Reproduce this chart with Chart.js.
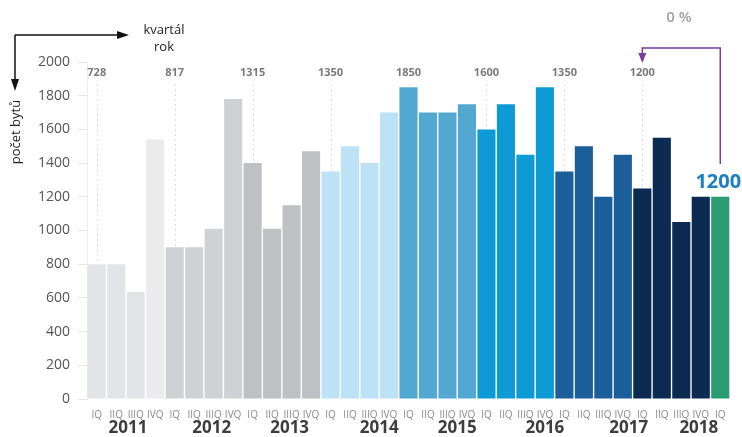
<!DOCTYPE html>
<html>
<head>
<meta charset="utf-8">
<script src="https://cdn.jsdelivr.net/npm/chart.js@4"></script>
<style>
  html, body { margin: 0; padding: 0; background: #ffffff; }
  #wrap { width: 742px; height: 437px; position: relative; }
</style>
</head>
<body>
<div id="wrap"><canvas id="c" width="742" height="437"></canvas></div>
<script>
// ---- data ----
const quarters = [
  'IQ','IIQ','IIIQ','IVQ', 'IQ','IIQ','IIIQ','IVQ', 'IQ','IIQ','IIIQ','IVQ',
  'IQ','IIQ','IIIQ','IVQ', 'IQ','IIQ','IIIQ','IVQ', 'IQ','IIQ','IIIQ','IVQ',
  'IQ','IIQ','IIIQ','IVQ', 'IQ','IIQ','IIIQ','IVQ', 'IQ'
];
const flats = [
  800, 800, 635, 1540,
  900, 900, 1010, 1780,
  1400, 1010, 1150, 1470,
  1350, 1500, 1400, 1700,
  1850, 1700, 1700, 1750,
  1600, 1750, 1450, 1850,
  1350, 1500, 1200, 1450,
  1250, 1550, 1050, 1200,
  1200
];
const years = ['2011','2012','2013','2014','2015','2016','2017','2018'];
const yearLabelAt = [1.6, 5.9, 9.9, 14.5, 18.5, 23.0, 27.3, 30.9];
const markerValues = ['728','817','1315','1350','1850','1600','1350','1200'];
const markerBars = [0, 4, 8, 12, 16, 20, 24, 28];
const yTicksMax = 2000;
const changeText = '0 %';
const lastValueText = '1200';

// ---- styles ----
const groupColors = ['#e3e4e7','#d0d1d4','#bfc0c3','#bde2f5','#53a8d1','#0e9bd5','#1c5e99','#0b2b52'];
const lastColor = '#2b9b72';
const barColors = flats.map((v, i) => i === flats.length - 1 ? lastColor : groupColors[Math.floor(i / 4)]);
barColors[3] = '#ebebed';
const FONT = '"Open Sans", "Liberation Sans", sans-serif';

const overlay = {
  id: 'overlay',
  beforeDatasetsDraw(chart) {
    const ctx = chart.ctx, x = chart.scales.x, area = chart.chartArea;
    ctx.save();
    ctx.strokeStyle = '#dcdcdc';
    ctx.lineWidth = 1;
    ctx.setLineDash([2, 3]);
    markerBars.forEach(b => {
      const px = Math.round(x.getPixelForValue(b)) + 0.5;
      ctx.beginPath(); ctx.moveTo(px, 84); ctx.lineTo(px, area.bottom); ctx.stroke();
    });
    ctx.restore();
  },
  afterDraw(chart) {
    const ctx = chart.ctx, x = chart.scales.x, y = chart.scales.y;
    ctx.save();
    // marker values
    ctx.fillStyle = '#7a7a7a';
    ctx.font = 'bold 11px ' + FONT;
    ctx.textAlign = 'center'; ctx.textBaseline = 'middle';
    markerBars.forEach((b, i) => ctx.fillText(markerValues[i], x.getPixelForValue(b), 73));
    // year labels
    ctx.fillStyle = '#3d3d3d';
    ctx.font = 'bold 17px ' + FONT;
    yearLabelAt.forEach((p, i) => {
      const lo = Math.floor(p), f = p - lo;
      const px = x.getPixelForValue(lo) + f * (x.getPixelForValue(lo + 1) - x.getPixelForValue(lo));
      ctx.fillText(years[i], px, 428);
    });
    // axis arrows
    ctx.strokeStyle = '#111'; ctx.fillStyle = '#111'; ctx.lineWidth = 1.5;
    ctx.beginPath(); ctx.moveTo(15, 35); ctx.lineTo(121, 35); ctx.moveTo(15, 35); ctx.lineTo(15, 83); ctx.stroke();
    ctx.beginPath(); ctx.moveTo(129, 35); ctx.lineTo(117, 31); ctx.lineTo(117, 39); ctx.closePath(); ctx.fill();
    ctx.beginPath(); ctx.moveTo(15, 91); ctx.lineTo(11, 79); ctx.lineTo(19, 79); ctx.closePath(); ctx.fill();
    ctx.fillStyle = '#222'; ctx.font = '13px ' + FONT;
    ctx.fillText('kvartál', 164, 30);
    ctx.fillText('rok', 164, 47);
    ctx.save();
    ctx.translate(16, 132); ctx.rotate(-Math.PI / 2);
    ctx.fillText('počet bytů', 0, 0);
    ctx.restore();
    // change arrow
    const xa = x.getPixelForValue(markerBars[markerBars.length - 1]);
    const xb = x.getPixelForValue(flats.length - 1);
    ctx.strokeStyle = '#7b3c9e'; ctx.fillStyle = '#7b3c9e'; ctx.lineWidth = 1.5;
    ctx.beginPath(); ctx.moveTo(xb, 164); ctx.lineTo(xb, 48); ctx.lineTo(xa, 48); ctx.lineTo(xa, 56); ctx.stroke();
    ctx.beginPath(); ctx.moveTo(xa, 63); ctx.lineTo(xa - 4, 53); ctx.lineTo(xa + 4, 53); ctx.closePath(); ctx.fill();
    ctx.fillStyle = '#a0a0a0'; ctx.font = '600 15px ' + FONT;
    ctx.fillText(changeText, 679, 18);
    ctx.fillStyle = '#1b7fc1'; ctx.font = 'bold 20px ' + FONT;
    ctx.fillText(lastValueText, xb - 2, y.getPixelForValue(flats[flats.length - 1]) - 15);
    ctx.restore();
  }
};

new Chart(document.getElementById('c'), {
  type: 'bar',
  data: {
    labels: quarters,
    datasets: [{ data: flats, backgroundColor: barColors, borderWidth: 0,
      barPercentage: 0.93, categoryPercentage: 1.0 }]
  },
  options: {
    responsive: false,
    animation: false,
    events: [],
    layout: { padding: { left: 0, top: 62, right: 12, bottom: 0 } },
    plugins: { legend: { display: false }, tooltip: { enabled: false } },
    scales: {
      x: {
        grid: { display: false },
        border: { display: false },
        ticks: { color: '#8a8a8a', font: { family: FONT, size: 10 }, padding: 2, maxRotation: 0, autoSkip: false },
        afterFit(s) { s.height = 38; }
      },
      y: {
        min: 0, max: yTicksMax,
        grid: { drawOnChartArea: false, drawTicks: true, tickLength: 9, color: '#e6e6e6' },
        border: { display: true, color: '#ececec' },
        ticks: { stepSize: 200, color: '#555', padding: 8, font: { family: FONT, size: 14 },
          callback: v => String(v) },
        afterFit(s) { s.width = 87; }
      }
    }
  },
  plugins: [overlay]
});
</script>
</body>
</html>
